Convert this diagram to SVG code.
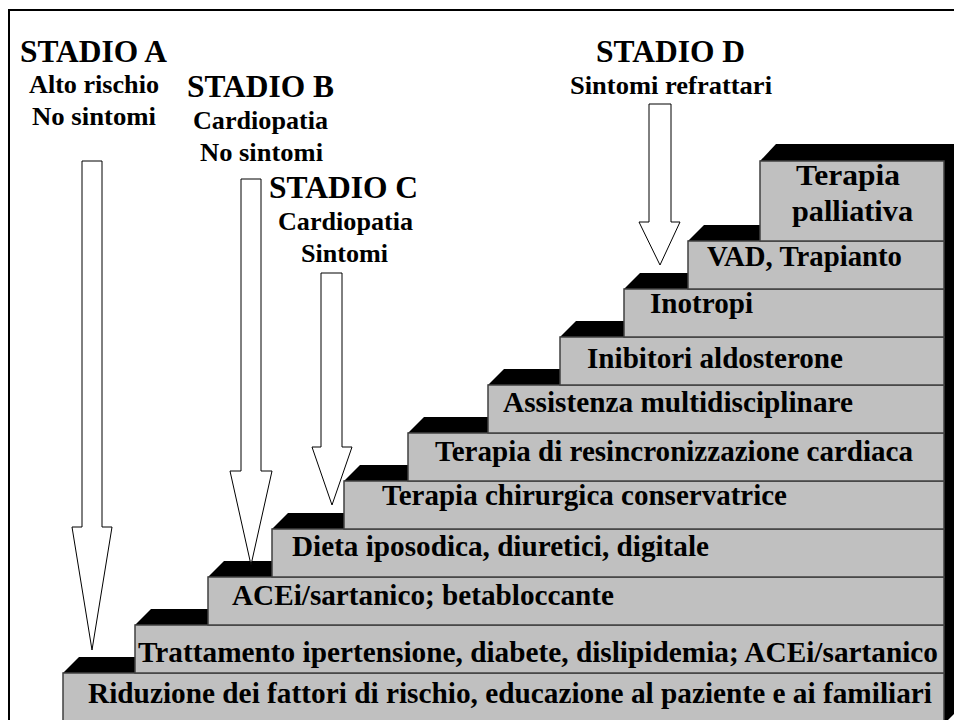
<svg xmlns="http://www.w3.org/2000/svg" width="954" height="720" viewBox="0 0 954 720">
<style>
.frame{fill:none;stroke:#000;stroke-width:2}
.top{fill:#000}
.face{fill:#c0c0c0;stroke:#404040;stroke-width:1.5}
text{font-family:'Liberation Serif','Times New Roman',Times,serif;font-weight:700;fill:#000}
.lbl{font-size:29px}
.st{font-size:32px}
.sub{font-size:26px}
.arr{fill:#fff;stroke:#000;stroke-width:1}
</style>
<rect width="954" height="720" fill="#fff"/>
<rect class="frame" x="9" y="10" width="1000" height="1000"/>
<polygon class="top" points="944,161 960,145 960,708 944,724"/>
<g id="step1">
<polygon class="top" points="63,673 79,657 960,657 960,673"/>
<rect class="face" x="63" y="673" width="881" height="60"/>
<text class="lbl" x="88" y="703" textLength="844" lengthAdjust="spacingAndGlyphs">Riduzione dei fattori di rischio, educazione al paziente e ai familiari</text>
</g>
<g id="step2">
<polygon class="top" points="135,625 151,609 960,609 960,625"/>
<rect class="face" x="135" y="625" width="809" height="48"/>
<text class="lbl" x="138" y="662" textLength="800" lengthAdjust="spacingAndGlyphs">Trattamento ipertensione, diabete, dislipidemia; ACEi/sartanico</text>
</g>
<g id="step3">
<polygon class="top" points="208,577 224,561 960,561 960,577"/>
<rect class="face" x="208" y="577" width="736" height="48"/>
<text class="lbl" x="232" y="605" textLength="382" lengthAdjust="spacingAndGlyphs">ACEi/sartanico; betabloccante</text>
</g>
<g id="step4">
<polygon class="top" points="272,529 288,513 960,513 960,529"/>
<rect class="face" x="272" y="529" width="672" height="48"/>
<text class="lbl" x="292" y="556" textLength="417" lengthAdjust="spacingAndGlyphs">Dieta iposodica, diuretici, digitale</text>
</g>
<g id="step5">
<polygon class="top" points="344,481 360,465 960,465 960,481"/>
<rect class="face" x="344" y="481" width="600" height="48"/>
<text class="lbl" x="382" y="505" textLength="405" lengthAdjust="spacingAndGlyphs">Terapia chirurgica conservatrice</text>
</g>
<g id="step6">
<polygon class="top" points="408,433 424,417 960,417 960,433"/>
<rect class="face" x="408" y="433" width="536" height="48"/>
<text class="lbl" x="435" y="461" textLength="478" lengthAdjust="spacingAndGlyphs">Terapia di resincronizzazione cardiaca</text>
</g>
<g id="step7">
<polygon class="top" points="488,385 504,369 960,369 960,385"/>
<rect class="face" x="488" y="385" width="456" height="48"/>
<text class="lbl" x="503" y="412" textLength="350" lengthAdjust="spacingAndGlyphs">Assistenza multidisciplinare</text>
</g>
<g id="step8">
<polygon class="top" points="560,337 576,321 960,321 960,337"/>
<rect class="face" x="560" y="337" width="384" height="48"/>
<text class="lbl" x="587" y="368" textLength="256" lengthAdjust="spacingAndGlyphs">Inibitori aldosterone</text>
</g>
<g id="step9">
<polygon class="top" points="624,289 640,273 960,273 960,289"/>
<rect class="face" x="624" y="289" width="320" height="48"/>
<text class="lbl" x="650" y="313" textLength="103" lengthAdjust="spacingAndGlyphs">Inotropi</text>
</g>
<g id="step10">
<polygon class="top" points="688,241 704,225 960,225 960,241"/>
<rect class="face" x="688" y="241" width="256" height="48"/>
<text class="lbl" x="707" y="266" textLength="195" lengthAdjust="spacingAndGlyphs">VAD, Trapianto</text>
</g>
<g id="step11">
<polygon class="top" points="760,161 776,144 960,144 960,161"/>
<rect class="face" x="760" y="161" width="184" height="80"/>
<text class="lbl" x="796" y="185" textLength="104" lengthAdjust="spacingAndGlyphs">Terapia</text>
<text class="lbl" x="792" y="221" textLength="121" lengthAdjust="spacingAndGlyphs">palliativa</text>
</g>
<g id="stageA">
<text class="st" x="20" y="62" textLength="147" lengthAdjust="spacingAndGlyphs">STADIO A</text>
<text class="sub" x="29" y="93" textLength="130" lengthAdjust="spacingAndGlyphs">Alto rischio</text>
<text class="sub" x="32" y="125" textLength="124" lengthAdjust="spacingAndGlyphs">No sintomi</text>
</g>
<g id="stageB">
<text class="st" x="187" y="97" textLength="147" lengthAdjust="spacingAndGlyphs">STADIO B</text>
<text class="sub" x="193" y="129" textLength="135" lengthAdjust="spacingAndGlyphs">Cardiopatia</text>
<text class="sub" x="200" y="161" textLength="123" lengthAdjust="spacingAndGlyphs">No sintomi</text>
</g>
<g id="stageC">
<text class="st" x="269" y="198" textLength="149" lengthAdjust="spacingAndGlyphs">STADIO C</text>
<text class="sub" x="278" y="230" textLength="135" lengthAdjust="spacingAndGlyphs">Cardiopatia</text>
<text class="sub" x="301" y="262" textLength="87" lengthAdjust="spacingAndGlyphs">Sintomi</text>
</g>
<g id="stageD">
<text class="st" x="596" y="62" textLength="149" lengthAdjust="spacingAndGlyphs">STADIO D</text>
<text class="sub" x="570" y="94" textLength="202" lengthAdjust="spacingAndGlyphs">Sintomi refrattari</text>
</g>
<g id="connectors">
<polygon class="arr" points="82,161 102,161 102,527 112,527 92,650 72,527 82,527"/>
<polygon class="arr" points="241,179 261,179 261,471 272,471 251,565 230,471 241,471"/>
<polygon class="arr" points="321,273 342,273 342,447 352,447 332,505 312,447 321,447"/>
<polygon class="arr" points="649,104 671,104 671,222 680,222 660,265 639,222 649,222"/>
</g>
</svg>
